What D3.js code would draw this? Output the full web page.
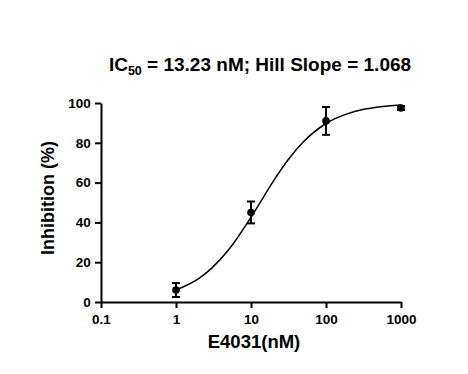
<!DOCTYPE html>
<html>
<head>
<meta charset="utf-8">
<script src="https://cdn.jsdelivr.net/npm/d3@7"></script>
<style>
  body { margin: 0; background: #fff; }
  svg { display: block; font-family: Arial, "Liberation Sans", sans-serif; }
</style>
</head>
<body>
<div id="grafico"></div>
<script>
// datos
const concentraciones = [1, 10, 100, 1000]
const inhibicion = [6, 45, 91, 97.5]
const errores = [3.5, 5.5, 7, 1]

// curva ajustada
const curvaX = [1, 2, 3, 5, 10, 20, 30, 50, 100, 200, 300, 500, 1000]
const curvaY = [6.0, 11.7, 17.0, 26.1, 42.6, 60.9, 70.6, 80.5, 89.7, 94.8, 96.6, 98.0, 99.0]

const ticksX = [0.1, 1, 10, 100, 1000]
const ticksY = [0, 20, 40, 60, 80, 100]

const opciones = {
    width: 468,
    height: 374,
    margin: {top: 103, right: 67, bottom: 72, left: 101}
}

function graficar(contenedor, opciones){
    const svg = d3.select(contenedor)
                  .append("svg")
                  .attr("width", opciones.width)
                  .attr("height", opciones.height)

    const xScale = d3.scaleLog()
                     .domain([0.1, 1000])
                     .range([opciones.margin.left, opciones.width - opciones.margin.right])

    const yScale = d3.scaleLinear()
                     .domain([0, 100])
                     .range([opciones.height - opciones.margin.bottom, opciones.margin.top])

    const ejeX = svg.append("g")
        .attr("transform", `translate(0, ${opciones.height - opciones.margin.bottom})`)
        .call(d3.axisBottom(xScale).tickValues(ticksX).tickFormat(d => d3.format("~g")(d)).tickSize(6).tickSizeOuter(0))

    const ejeY = svg.append("g")
        .attr("transform", `translate(${opciones.margin.left}, 0)`)
        .call(d3.axisLeft(yScale).tickValues(ticksY).tickSize(6).tickSizeOuter(0))

    ;[ejeX, ejeY].forEach(eje => {
        eje.selectAll("path, line").attr("stroke", "#000").attr("stroke-width", 2)
        eje.selectAll("text")
           .attr("font-size", 13.5)
           .attr("font-weight", "bold")
           .attr("fill", "#000")
           .attr("font-family", "Arial, 'Liberation Sans', sans-serif")
    })
    ejeX.selectAll("text").attr("dy", "0.95em")
    ejeY.selectAll("text").attr("dx", "-0.1em")

    // curva
    const linea = d3.line()
                    .x(d => xScale(d.x))
                    .y(d => yScale(d.y))
                    .curve(d3.curveMonotoneX)

    svg.append("path")
        .datum(curvaX.map((c, i) => ({x: c, y: curvaY[i]})))
        .attr("d", linea)
        .attr("fill", "none")
        .attr("stroke", "#000")
        .attr("stroke-width", 1.5)

    const datos = concentraciones.map((c, i) => ({x: c, y: inhibicion[i], e: errores[i]}))

    const barras = svg.append("g").attr("stroke", "#000").attr("stroke-width", 2)
    datos.forEach(d => {
        const cx = xScale(d.x)
        barras.append("line")
            .attr("x1", cx).attr("x2", cx)
            .attr("y1", yScale(d.y - d.e)).attr("y2", yScale(d.y + d.e))
        ;[d.y - d.e, d.y + d.e].forEach(v => {
            barras.append("line")
                .attr("x1", cx - 4).attr("x2", cx + 4)
                .attr("y1", yScale(v)).attr("y2", yScale(v))
        })
    })

    svg.selectAll("circle.punto")
        .data(datos)
        .enter()
        .append("circle")
        .attr("class", "punto")
        .attr("cx", d => xScale(d.x))
        .attr("cy", d => yScale(d.y))
        .attr("r", 3.8)
        .attr("fill", "#000")

    // titulo
    const titulo = svg.append("text")
        .attr("x", 260)
        .attr("y", 71)
        .attr("text-anchor", "middle")
        .attr("font-size", 19)
        .attr("font-weight", "bold")
    titulo.append("tspan").text("IC")
    titulo.append("tspan").attr("font-size", 12.5).attr("dy", 4).text("50")
    titulo.append("tspan").attr("dy", -4).text(" = 13.23 nM; Hill Slope = 1.068")

    svg.append("text")
        .attr("x", 254)
        .attr("y", 348)
        .attr("text-anchor", "middle")
        .attr("font-size", 18.5)
        .attr("font-weight", "bold")
        .text("E4031(nM)")

    svg.append("text")
        .attr("transform", "translate(54, 198) rotate(-90)")
        .attr("text-anchor", "middle")
        .attr("font-size", 18)
        .attr("font-weight", "bold")
        .text("Inhibition (%)")
}

graficar("#grafico", opciones)
</script>
</body>
</html>
